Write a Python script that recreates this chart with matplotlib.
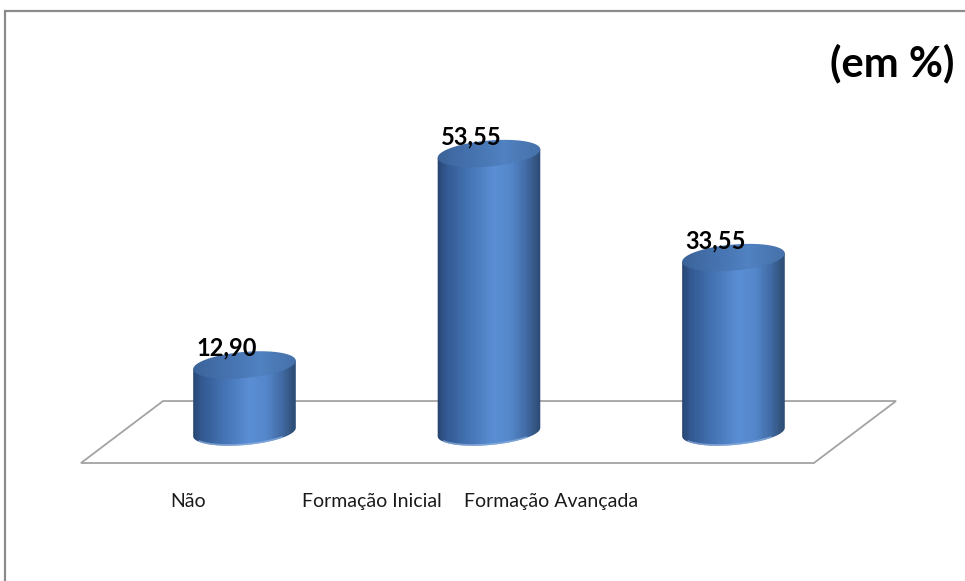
import numpy as np
import matplotlib
matplotlib.use('Agg')
import matplotlib.pyplot as plt
from matplotlib.path import Path
from matplotlib.patches import PathPatch, Polygon, Rectangle
from matplotlib.collections import PolyCollection
from matplotlib.colors import LinearSegmentedColormap
from matplotlib.transforms import IdentityTransform

# Data
categorias = ['Não', 'Formação Inicial', 'Formação Avançada']
valores = [12.90, 53.55, 33.55]
unidade = '(em %)'

plt.rcParams['font.family'] = ['Lato', 'DejaVu Sans']

# Cylinder look (pixels)
raio_x = 51.5
raio_y = 13.0
inclinacao = np.deg2rad(5.0)

corpo_cmap = LinearSegmentedColormap.from_list('corpo', [
    (0.00, '#274470'), (0.08, '#325890'), (0.30, '#4473b3'),
    (0.55, '#5a8ed4'), (0.72, '#5386c9'), (0.88, '#3f679f'),
    (0.95, '#33557f'), (1.00, '#2b4a75')])
topo_cmap = LinearSegmentedColormap.from_list('topo', [
    (0.00, '#3b6399'), (0.35, '#4673b0'), (0.65, '#5081c1'),
    (1.00, '#4670a8')])


def elipse(cx, cy, t):
    x = raio_x * np.cos(t)
    y = raio_y * np.sin(t)
    c, s = np.cos(inclinacao), np.sin(inclinacao)
    return np.column_stack([cx + c * x - s * y, cy + s * x + c * y])


def faixas(ax, cx, y0, y1, cmap, clip, z):
    xs = np.linspace(cx - raio_x * 1.05, cx + raio_x * 1.05, 90)
    polys, cores = [], []
    for xa, xb in zip(xs[:-1], xs[1:]):
        polys.append([(xa, y0), (xb, y0), (xb, y1), (xa, y1)])
        f = ((xa + xb) / 2 - (cx - raio_x)) / (2 * raio_x)
        cores.append(cmap(np.clip(f, 0, 1)))
    pc = PolyCollection(polys, facecolors=cores, edgecolors='none',
                        antialiased=False, transform=IdentityTransform(),
                        zorder=z)
    ax.add_collection(pc)
    pc.set_clip_path(clip)


def cilindro(ax, i, v, z):
    bx, by = ax.transData.transform((i, 0))
    tx, ty = ax.transData.transform((i, v))

    # body: sides plus the lower half of the base ellipse
    arco = elipse(bx, by, np.linspace(np.pi, 2 * np.pi, 60))
    corpo = np.vstack([elipse(tx, ty, np.array([np.pi])), arco,
                       elipse(tx, ty, np.array([0.0]))])
    corpo_patch = PathPatch(Path(np.vstack([corpo, corpo[:1]]), closed=True),
                            transform=IdentityTransform())
    faixas(ax, bx, by - raio_y - 4, ty + raio_y + 4, corpo_cmap,
           corpo_patch, z)

    # soft highlight on the bottom rim
    rim = elipse(bx, by, np.linspace(1.15 * np.pi, 1.75 * np.pi, 40))
    ax.plot(rim[:, 0], rim[:, 1] + 0.8, color='#8fb0de', lw=1.2, alpha=0.7,
            transform=IdentityTransform(), zorder=z + 0.5)

    # top ellipse
    topo = elipse(tx, ty, np.linspace(0, 2 * np.pi, 120))
    topo_patch = PathPatch(Path(topo, closed=True),
                           transform=IdentityTransform())
    faixas(ax, tx, ty - raio_y - 4, ty + raio_y + 4, topo_cmap,
           topo_patch, z + 1)


fig = plt.figure(figsize=(9.65, 5.81), dpi=100)
ax = fig.add_axes([0, 0, 1, 1])
ax.set_xlim(-1.0, 2.947)
ax.set_ylim(-28.65, 83.08)
ax.axis('off')

# chart frame
fig.patches.append(Rectangle((5 / 965, -0.1), 1.2, 1 - 11 / 581 + 0.1,
                             transform=fig.transFigure, fill=False,
                             edgecolor='#8a8a8a', lw=1.6))

# floor
chao = Polygon([(-0.669, -5.96), (2.329, -5.96), (2.665, 5.96),
                (-0.333, 5.96)], closed=True, facecolor='white',
               edgecolor='#a3a3a3', lw=1.3, zorder=1)
ax.add_patch(chao)

for i, v in enumerate(valores):
    cilindro(ax, i, v, 3 + 2 * i)
    ax.annotate(f'{v:.2f}'.replace('.', ','), xy=(i, v), xytext=(-18, 17),
                textcoords='offset pixels', ha='center', va='center',
                fontsize=17, fontweight='bold', color='black', zorder=20)

# category labels sit along the front edge of the floor
pos_rotulos = [-0.231, 0.521, 1.254]
for x, nome in zip(pos_rotulos, categorias):
    ax.text(x, -13.3, nome, ha='center', va='center', fontsize=14,
            color='#1a1a1a', zorder=20)

fig.text(892 / 965, 1 - 63 / 581, unidade, ha='center', va='center',
         fontsize=30, fontweight='bold', color='black')

fig.savefig('out.png', dpi=100)
